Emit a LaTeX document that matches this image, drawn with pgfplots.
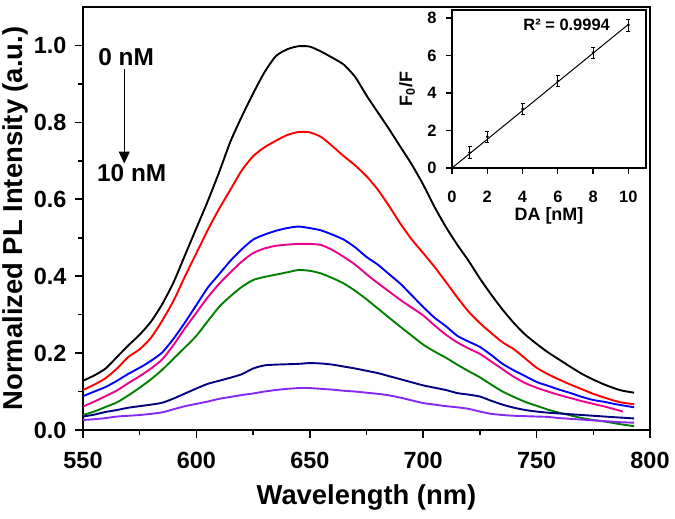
\documentclass[border=0pt]{standalone}
\usepackage{fontspec}
\setmainfont{Liberation Sans}
\usepackage{pgfplots}
\pgfplotsset{compat=1.18}
\usetikzlibrary{arrows.meta}
\definecolor{plgreen}{RGB}{0,128,0}
\definecolor{plnavy}{RGB}{0,0,128}
\definecolor{plviolet}{RGB}{135,40,245}

\pgfplotstableread{
x     a      b      c      d      e      f      g
550 0.128 0.104 0.088 0.061 0.039 0.035 0.026
555 0.142 0.118 0.100 0.074 0.048 0.040 0.028
560 0.160 0.135 0.112 0.088 0.060 0.047 0.031
565 0.190 0.160 0.128 0.103 0.072 0.052 0.035
570 0.220 0.190 0.146 0.122 0.090 0.058 0.037
575 0.248 0.210 0.162 0.140 0.110 0.062 0.039
580 0.282 0.240 0.180 0.160 0.132 0.066 0.042
585 0.328 0.285 0.202 0.184 0.157 0.071 0.046
590 0.385 0.337 0.238 0.222 0.186 0.082 0.054
595 0.455 0.400 0.280 0.265 0.215 0.095 0.062
600 0.525 0.460 0.325 0.305 0.245 0.108 0.068
605 0.595 0.520 0.370 0.345 0.283 0.120 0.074
610 0.670 0.575 0.405 0.380 0.320 0.128 0.081
615 0.750 0.625 0.440 0.410 0.348 0.136 0.086
620 0.815 0.675 0.470 0.438 0.372 0.145 0.091
625 0.875 0.712 0.495 0.460 0.390 0.160 0.095
630 0.930 0.735 0.508 0.472 0.398 0.168 0.100
635 0.972 0.752 0.518 0.479 0.404 0.170 0.104
640 0.990 0.767 0.525 0.482 0.410 0.171 0.107
645 0.998 0.775 0.529 0.484 0.416 0.172 0.109
650 0.997 0.774 0.525 0.484 0.414 0.174 0.109
655 0.984 0.762 0.519 0.481 0.407 0.173 0.107
660 0.968 0.738 0.508 0.468 0.395 0.170 0.105
665 0.950 0.712 0.495 0.450 0.381 0.165 0.102
670 0.918 0.688 0.475 0.430 0.362 0.160 0.100
675 0.870 0.660 0.450 0.405 0.340 0.154 0.097
680 0.826 0.625 0.430 0.382 0.316 0.148 0.094
685 0.782 0.582 0.405 0.360 0.292 0.140 0.090
690 0.736 0.536 0.380 0.338 0.268 0.132 0.084
695 0.690 0.495 0.350 0.318 0.245 0.124 0.077
700 0.638 0.460 0.320 0.298 0.222 0.116 0.070
705 0.580 0.424 0.292 0.272 0.204 0.110 0.066
710 0.528 0.385 0.270 0.248 0.188 0.104 0.062
715 0.482 0.345 0.245 0.228 0.170 0.096 0.059
720 0.440 0.308 0.230 0.212 0.153 0.092 0.055
725 0.394 0.278 0.216 0.198 0.137 0.087 0.048
730 0.352 0.252 0.195 0.178 0.118 0.076 0.042
735 0.313 0.228 0.172 0.158 0.100 0.066 0.039
740 0.278 0.210 0.155 0.138 0.086 0.058 0.037
745 0.248 0.186 0.140 0.122 0.073 0.052 0.036
750 0.224 0.162 0.125 0.110 0.063 0.048 0.035
755 0.202 0.145 0.115 0.100 0.053 0.045 0.034
760 0.183 0.131 0.105 0.091 0.045 0.043 0.031
765 0.164 0.118 0.096 0.083 0.038 0.041 0.029
770 0.146 0.106 0.086 0.075 0.031 0.039 0.027
775 0.131 0.094 0.078 0.068 0.026 0.037 0.025
780 0.118 0.084 0.073 0.061 0.022 0.035 0.023
785 0.107 0.075 0.067 0.053 0.017 0.033 0.021
788 0.102 0.071 0.064 0.048 0.014 0.032 0.020
793 0.097 0.067 0.059 nan   0.010 0.030 0.019
}\spectra

\pgfplotstableread{
x  y     e
0  0.00  0.10
1  0.83  0.30
2  1.67  0.30
4  3.15  0.30
6  4.64  0.30
8  6.15  0.30
10 7.63  0.32
}\ratio

\begin{document}
\begin{tikzpicture}
\useasboundingbox (-83bp,-89bp) rectangle (592bp,430bp);
\begin{axis}[
    name=main,
    scale only axis,
    width=567bp, height=423bp,
    xmin=550, xmax=800,
    ymin=0, ymax=1.1,
    xtick={550,600,...,800},
    ytick={0,0.2,...,1.0},
    minor x tick num=1,
    minor y tick num=1,
    tick align=outside,
    xtick pos=bottom, ytick pos=left,
    major tick length=8bp,
    minor tick length=5bp,
    axis line style={line width=1.7bp},
    tick style={line width=1.6bp, black},
    unbounded coords=jump,
    ticklabel style={font=\fontsize{23.5}{28}\selectfont\bfseries},
    xticklabel style={yshift=-11bp},
    yticklabel style={xshift=-5bp, /pgf/number format/.cd, fixed, fixed zerofill, precision=1},
    /pgf/number format/assume math mode=true,
    xlabel={Wavelength (nm)},
    ylabel={Normalized PL Intensity (a.u.)},
    label style={font=\fontsize{27.5}{32}\selectfont\bfseries},
    xlabel style={at={(axis description cs:0.5,0)}, anchor=center, yshift=-67bp},
    ylabel style={at={(axis description cs:0,0.5)}, anchor=center, yshift=68bp},
    every axis plot/.append style={line width=1.9bp, no marks, smooth, tension=0.4},
]
\addplot[black]    table[x=x, y=a] {\spectra};
\addplot[red]      table[x=x, y=b] {\spectra};
\addplot[blue]     table[x=x, y=c] {\spectra};
\addplot[magenta]  table[x=x, y=d] {\spectra};
\addplot[plgreen]  table[x=x, y=e] {\spectra};
\addplot[plnavy]   table[x=x, y=f] {\spectra};
\addplot[plviolet] table[x=x, y=g] {\spectra};
\node[font=\fontsize{24.5}{28}\selectfont\bfseries] at (axis cs:569,0.969) {0 nM};
\node[font=\fontsize{24.5}{28}\selectfont\bfseries] at (axis cs:571.5,0.669) {10 nM};
\draw[line width=1.4bp, -{Triangle[length=12bp,width=11bp]}] (axis cs:568.2,0.94) -- (axis cs:568.2,0.693);
\end{axis}

\begin{axis}[
    at={(369bp,262bp)}, anchor=south west,
    scale only axis,
    width=194bp, height=158bp,
    xmin=0, xmax=11,
    ymin=0, ymax=8.43,
    xtick={0,2,...,10},
    ytick={0,2,...,8},
    tick align=outside,
    xtick pos=bottom, ytick pos=left,
    major tick length=6bp,
    axis line style={line width=1.2bp},
    tick style={line width=1.2bp, black},
    axis background/.style={fill=white},
    ticklabel style={font=\fontsize{16.5}{19}\selectfont\bfseries},
    xticklabel style={yshift=-14bp},
    yticklabel style={xshift=-6bp},
    /pgf/number format/assume math mode=true,
    xlabel={DA [nM]},
    ylabel={F\textsubscript{0}/F},
    label style={font=\fontsize{18}{21}\selectfont\bfseries},
    xlabel style={at={(axis description cs:0.5,0)}, anchor=center, yshift=-48bp},
    ylabel style={at={(axis description cs:0,0.5)}, anchor=center, yshift=45bp},
]
\addplot[black, line width=1bp, no marks] coordinates {(0,0) (10,7.66)};
\addplot[black, only marks, mark=*, mark size=1.2bp,
    error bars/.cd, y dir=both, y explicit,
    error bar style={line width=0.9bp},
    error mark options={rotate=90, mark size=2bp, line width=0.9bp}]
    table[x=x, y=y, y error=e] {\ratio};
\node[font=\fontsize{16.5}{19}\selectfont\bfseries] at (axis cs:6.5,7.63) {R² = 0.9994};
\end{axis}
\end{tikzpicture}
\end{document}
